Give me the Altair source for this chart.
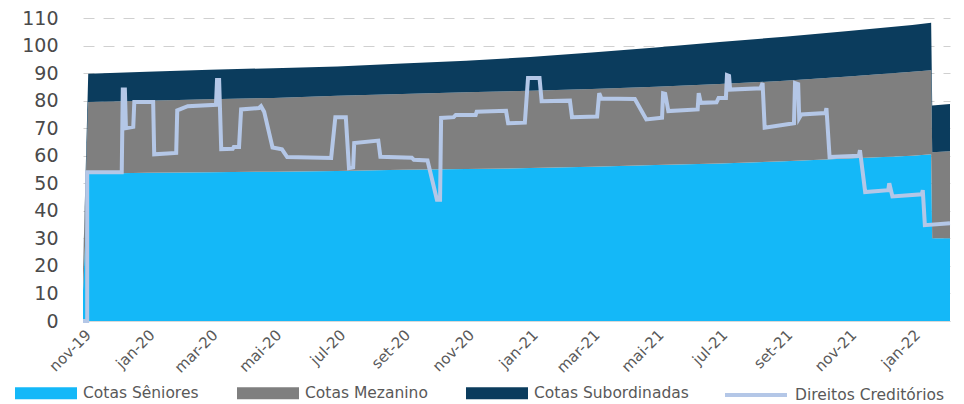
import altair as alt
import pandas as pd

series_names = ["Cotas Sêniores", "Cotas Mezanino", "Cotas Subordinadas", "Direitos Creditórios"]
series_colors = ["#14B8F8", "#7F7F7F", "#0B3C5D", "#B4C7E7"]

area_dates = ["2019-11-01", "2019-11-06", "2020-01-01", "2020-03-01", "2020-05-01", "2020-07-01",
              "2020-09-01", "2020-11-01", "2021-01-01", "2021-03-01", "2021-05-01", "2021-07-01",
              "2021-09-01", "2021-11-01", "2022-01-01", "2022-01-19", "2022-01-20", "2022-02-06"]
seniores = [11.0, 53.5, 53.8, 54.0, 54.2, 54.5, 54.9, 55.2, 55.5, 56.0, 56.6, 57.2, 58.0, 59.0, 60.0, 60.5, 30.0, 30.0]
mezanino = [6.8, 26.0, 26.2, 26.5, 26.8, 27.3, 27.5, 27.8, 28.1, 28.2, 28.4, 28.8, 29.2, 29.8, 30.5, 30.5, 31.3, 31.6]
subordinadas = [0.2, 10.3, 10.5, 10.7, 10.8, 10.6, 11.1, 11.5, 12.2, 13.3, 14.3, 15.3, 16.0, 16.5, 17.0, 17.3, 16.9, 17.2]

line_dates = [
    "2019-11-01", "2019-11-05", "2019-11-05", "2019-12-08", "2019-12-09", "2019-12-11", "2019-12-12",
    "2019-12-19", "2019-12-20", "2020-01-07", "2020-01-08", "2020-01-29", "2020-01-30", "2020-02-09",
    "2020-03-07", "2020-03-08", "2020-03-10", "2020-03-12", "2020-03-23", "2020-03-24", "2020-03-29",
    "2020-03-31", "2020-04-17", "2020-04-19", "2020-04-22", "2020-04-30", "2020-05-09", "2020-05-14",
    "2020-06-25", "2020-06-29", "2020-07-09", "2020-07-12", "2020-07-16", "2020-07-17", "2020-08-09",
    "2020-08-11", "2020-09-10", "2020-09-12", "2020-09-25", "2020-10-04", "2020-10-07", "2020-10-08",
    "2020-10-20", "2020-10-22", "2020-11-10", "2020-11-11", "2020-12-09", "2020-12-11", "2020-12-27",
    "2020-12-30", "2021-01-10", "2021-01-12", "2021-02-08", "2021-02-10", "2021-03-06", "2021-03-08",
    "2021-03-10", "2021-04-11", "2021-04-22", "2021-05-07", "2021-05-08", "2021-05-10", "2021-05-13",
    "2021-06-10", "2021-06-11", "2021-06-13", "2021-06-28", "2021-06-30", "2021-07-07", "2021-07-08",
    "2021-07-10", "2021-07-11", "2021-08-09", "2021-08-11", "2021-08-13", "2021-09-10", "2021-09-11",
    "2021-09-14", "2021-09-15", "2021-09-17", "2021-10-10", "2021-10-11", "2021-10-14", "2021-11-11",
    "2021-11-12", "2021-11-17", "2021-12-09", "2021-12-10", "2021-12-13", "2022-01-10", "2022-01-11",
    "2022-01-13", "2022-02-06",
]
line_values = [
    0, 0, 54, 54, 84, 84, 70,
    70.5, 79.5, 79.5, 60.5, 61, 76.5, 78,
    78.5, 87.5, 87.5, 62.4, 62.5, 63.2, 63.2,
    76.8, 77.3, 78, 76, 63, 62.3, 59.5,
    59.2, 74, 74, 55.5, 55.8, 64.6, 65.5,
    59.6, 59.3, 58.5, 58.3, 44, 44, 73.7,
    74, 74.8, 74.8, 76, 76.3, 71.8, 72,
    88.2, 88.2, 79.8, 80, 74, 74.2, 82.7,
    80.8, 80.6, 73.2, 73.8, 82.7, 82.5, 76.2,
    76.8, 82.7, 79.2, 79.4, 81, 81, 89.3,
    89, 84, 84.5, 86.4, 70.2, 71.8, 86.4,
    86, 73.7, 75, 75.5, 77.3, 59.5, 60,
    62, 46.8, 47.5, 50, 45.2, 46, 47.5,
    34.8, 35.5,
]

tick_months = [(2019, 11), (2020, 1), (2020, 3), (2020, 5), (2020, 7), (2020, 9), (2020, 11),
               (2021, 1), (2021, 3), (2021, 5), (2021, 7), (2021, 9), (2021, 11), (2022, 1)]
month_abbr_pt = ["jan", "fev", "mar", "abr", "mai", "jun", "jul", "ago", "set", "out", "nov", "dez"]
y_ticks = [0, 10, 20, 30, 40, 50, 60, 70, 80, 90, 100, 110]

rows = []
for i, d in enumerate(area_dates):
    for k, vals in enumerate([seniores, mezanino, subordinadas]):
        rows.append({"date": d + "T00:00:00", "series": series_names[k],
                     "value": vals[i], "stack_order": k})
area_df = pd.DataFrame(rows)

line_df = pd.DataFrame({
    "date": [d + "T00:00:00" for d in line_dates],
    "value": line_values,
    "idx": list(range(len(line_dates))),
    "series": series_names[3],
})

month_list_expr = "[" + ",".join("'%s'" % m for m in month_abbr_pt) + "]"
label_expr = month_list_expr + "[month(datum.value)] + '-' + timeFormat(datum.value, '%y')"

x_scale = alt.Scale(domain=[alt.DateTime(year=2019, month=11, date=1),
                            alt.DateTime(year=2022, month=2, date=6)])
x_axis = alt.Axis(
    values=[alt.DateTime(year=y, month=m, date=1) for y, m in tick_months],
    labelExpr=label_expr, labelAngle=-45, labelFont="DejaVu Sans", labelFontSize=15,
    labelColor="#595959", grid=False, ticks=False, domain=True, domainColor="#D9D9D9",
    labelPadding=6, labelOverlap=False, title=None,
)
y_scale = alt.Scale(domain=[0, 110], nice=False)
y_axis = alt.Axis(
    values=y_ticks, grid=True, gridDash=[11, 9], gridColor="#D0D0D0", gridWidth=1,
    domain=False, ticks=False, labelFont="DejaVu Sans", labelFontSize=19,
    labelColor="#4A4A4A", labelPadding=25, labelOverlap=False, labelFlush=False, title=None,
)

legend_common = dict(
    orient="none", legendY=344, direction="horizontal", title=None,
    symbolSize=3844, labelFont="DejaVu Sans", labelFontSize=15.5, labelColor="#595959",
    labelOffset=6, columnPadding=38, labelLimit=300,
)
fill_legend = alt.Legend(legendX=-68, symbolType="M-1,-0.19L1,-0.19L1,0.19L-1,0.19Z",
                         symbolStrokeWidth=0, **legend_common)
stroke_legend = alt.Legend(legendX=640, symbolType="stroke", symbolStrokeWidth=4,
                           **legend_common)

area = alt.Chart(area_df).mark_area(interpolate="linear").encode(
    x=alt.X("date:T", scale=x_scale, axis=x_axis),
    y=alt.Y("value:Q", stack="zero", scale=y_scale, axis=y_axis),
    fill=alt.Fill("series:N", scale=alt.Scale(domain=series_names[:3], range=series_colors[:3]),
                  legend=fill_legend),
    order=alt.Order("stack_order:Q"),
)

line = alt.Chart(line_df).mark_line(strokeWidth=4, interpolate="linear").encode(
    x=alt.X("date:T", scale=x_scale, axis=x_axis),
    y=alt.Y("value:Q", scale=y_scale, axis=y_axis),
    stroke=alt.Stroke("series:N", scale=alt.Scale(domain=series_names[3:], range=series_colors[3:]),
                      legend=stroke_legend),
    order=alt.Order("idx:Q"),
)

chart = alt.layer(area, line).properties(
    width=867, height=303,
    autosize=alt.AutoSizeParams(type="none"),
    padding={"left": 75, "top": 10, "right": 6, "bottom": 83},
).configure_view(stroke=None)

chart.save("out.html", embed_options={"renderer": "svg", "actions": False})
